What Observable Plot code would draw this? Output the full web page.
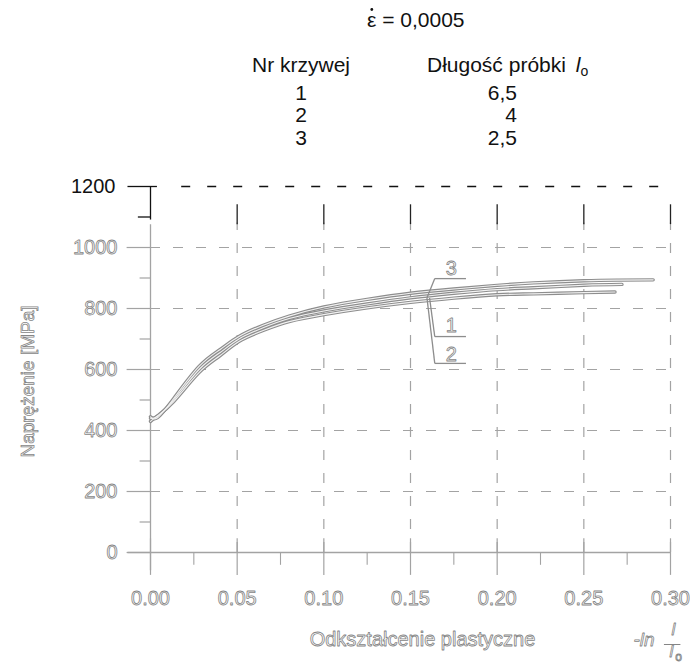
<!DOCTYPE html>
<html><head><meta charset="utf-8">
<script src="https://cdn.jsdelivr.net/npm/d3@7"></script>
<script src="https://cdn.jsdelivr.net/npm/@observablehq/plot@0.6"></script>
<style>
body{margin:0;background:#fff;}
#wrap{width:690px;height:666px;font-family:"Liberation Sans",Arial,sans-serif;}
#hdr svg,#chart svg{display:block;}
</style></head><body>
<div id="wrap"><div id="hdr"></div><div id="chart"></div></div>
<script>
// ---- texts ----
const rateLabel = "ε = 0,0005";
const colHeadCurve = "Nr krzywej";
const colHeadLength = "Długość próbki";
const curveNumbers = ["1", "2", "3"];
const sampleLengths = ["6,5", "4", "2,5"];
const yLabel = "Naprężenie [MPa]";
const xLabel = "Odkształcenie plastyczne";

// ---- ticks ----
const xTickValues = [0, 0.05, 0.10, 0.15, 0.20, 0.25, 0.30];
const xTickLabels = ["0.00", "0.05", "0.10", "0.15", "0.20", "0.25", "0.30"];
const xMinorTicks = [0.025, 0.075, 0.125, 0.175, 0.225, 0.275];
const yTickValues = [0, 200, 400, 600, 800, 1000];
const yTopTick = [1200];
const yMinorTicks = [100, 300, 500, 700, 900];
const yTopMinor = [1100];
const xGrid = [0.05, 0.10, 0.15, 0.20, 0.25, 0.30];
const yGrid = [200, 400, 600, 800, 1000];

// ---- curves (strain, stress MPa) ----
const strain3 = [0, 0.004, 0.0134, 0.028, 0.040, 0.051, 0.065, 0.080, 0.100, 0.125, 0.150, 0.175, 0.200, 0.221, 0.250, 0.270, 0.290];
const stress3 = [445, 442, 505, 610, 665, 708, 745, 775, 805, 830, 850, 864, 876, 884, 891, 893, 894];
const strain1 = [0, 0.004, 0.0134, 0.028, 0.040, 0.051, 0.065, 0.080, 0.100, 0.125, 0.150, 0.175, 0.200, 0.221, 0.250, 0.272];
const stress1 = [440, 446, 500, 600, 655, 700, 737, 767, 792, 815, 835, 850, 862, 868, 876, 879];
const strain2 = [0, 0.004, 0.0134, 0.028, 0.040, 0.051, 0.065, 0.080, 0.100, 0.125, 0.150, 0.175, 0.200, 0.221, 0.250, 0.268];
const stress2 = [430, 448, 495, 590, 645, 692, 728, 757, 780, 802, 820, 834, 845, 848, 852, 854];

// ---- curve labels (annotation anchors, data units) ----
const tagText = ["3", "1", "2"];
const tagX = [0.1735, 0.1735, 0.1735];
const tagY = [931, 744, 648];
const tagLineY = [898, 708, 620];
const tagLeaderX = [0.1595, 0.161, 0.1595];
const tagLeaderY = [835, 835, 835];

// ---------- header ----------
const font = "Liberation Sans, Arial, sans-serif";
const hdr = d3.select("#hdr").append("svg").attr("width", 690).attr("height", 150)
  .style("font-family", font).style("font-size", "21px").attr("fill", "#111");
hdr.append("text").attr("x", 367).attr("y", 27).text(rateLabel);
hdr.append("circle").attr("cx", 371.8).attr("cy", 9.5).attr("r", 1.4).attr("fill", "#111");
hdr.append("text").attr("x", 301).attr("y", 72).attr("text-anchor", "middle").text(colHeadCurve);
const h2 = hdr.append("text").attr("x", 427).attr("y", 72);
h2.append("tspan").text(colHeadLength + "  ");
h2.append("tspan").attr("font-style", "italic").attr("dx", 4).text("l");
h2.append("tspan").attr("font-size", 14).attr("dy", 4).text("o");
const rowY = [100, 122, 145];
curveNumbers.forEach((d, i) => hdr.append("text").attr("x", 301).attr("y", rowY[i]).attr("text-anchor", "middle").text(d));
sampleLengths.forEach((d, i) => hdr.append("text").attr("x", 517).attr("y", rowY[i]).attr("text-anchor", "end").text(d));

// ---------- chart ----------
const curves = [];
[[strain1, stress1, "1"], [strain2, stress2, "2"], [strain3, stress3, "3"]].forEach(([xs, ys, c]) =>
  xs.forEach((x, i) => curves.push({x, y: ys[i], curve: c})));

const grey = "#a3a3a3";
const outline = {fill: "white", stroke: "#858585", strokeWidth: 0.8, paintOrder: "normal", fontFamily: font};
const tags = tagText.map((t, i) => ({t, x: tagX[i], y: tagY[i], ly: tagLineY[i], lx: tagLeaderX[i], lly: tagLeaderY[i]}));

const chart = Plot.plot({
  width: 690, height: 516,
  marginTop: 36, marginBottom: 114, marginLeft: 150, marginRight: 20,
  x: {domain: [0, 0.3], axis: null},
  y: {domain: [0, 1200], axis: null},
  style: {fontFamily: font, background: "white", overflow: "visible"},
  marks: [
    // horizontal dashed grid
    Plot.ruleY(yGrid, {x1: 0, x2: 0.3, stroke: grey, strokeDasharray: "10,13", strokeWidth: 1.2}),
    Plot.ruleY(yTickValues, {x1: -0.0135, x2: 0, stroke: grey, strokeWidth: 1.2}),
    Plot.ruleY(yMinorTicks, {x1: -0.006, x2: 0, stroke: grey, strokeWidth: 1.2}),
    // vertical dashed grid
    Plot.ruleX(xGrid, {y1: 0, y2: 1080, stroke: grey, strokeDasharray: "10,13", strokeWidth: 1.2}),
    Plot.ruleX(xGrid, {y1: 1075, y2: 1140, stroke: "#222", strokeWidth: 1.3}),
    // top black line at 1200
    Plot.ruleY(yTopTick, {x1: -0.013, x2: 0.004, stroke: "#111", strokeWidth: 1.3}),
    Plot.ruleY(yTopTick, {x1: 0.018, x2: 0.3, stroke: "#111", strokeDasharray: "9,17", strokeWidth: 1.3}),
    Plot.ruleX([0], {y1: 1090, y2: 1200, stroke: "#111", strokeWidth: 1.3}),
    Plot.ruleY(yTopMinor, {x1: -0.007, x2: 0, stroke: "#111", strokeWidth: 1.3}),
    // y axis line
    Plot.ruleX([0], {y1: -60, y2: 1075, stroke: grey, strokeWidth: 1.3}),
    // x axis line and ticks
    Plot.ruleY([0], {x1: -0.013, x2: 0.3, stroke: grey, strokeWidth: 1.3}),
    Plot.ruleX(xTickValues, {y1: -75, y2: 45, stroke: grey, strokeWidth: 1.2}),
    Plot.ruleX(xMinorTicks, {y1: -42, y2: 0, stroke: grey, strokeWidth: 1.1}),
    // curves: hollow double stroke
    Plot.line(curves, {x: "x", y: "y", z: "curve", curve: "natural", stroke: "#8d8d8d", strokeWidth: 3.4}),
    Plot.line(curves, {x: "x", y: "y", z: "curve", curve: "natural", stroke: "#f2f2f2", strokeWidth: 1.1}),
    // curve tags
    Plot.link(tags, {x1: d => d.x - 0.0095, x2: d => d.x + 0.0085, y1: "ly", y2: "ly", stroke: "#8d8d8d", strokeWidth: 1.3}),
    Plot.link(tags, {x1: d => d.x - 0.0095, x2: "lx", y1: "ly", y2: "lly", stroke: "#8d8d8d", strokeWidth: 1.3}),
    Plot.text(tags, {x: "x", y: "y", text: "t", fontSize: 20, ...outline}),
    // tick labels
    Plot.text(yTickValues, {x: 0, y: d => d, text: d => String(d), dx: -33, textAnchor: "end", fontSize: 20, ...outline}),
    Plot.text(yTopTick, {x: 0, y: d => d, text: d => String(d), dx: -35, textAnchor: "end", fontSize: 20, fill: "#111", fontFamily: font}),
    Plot.text(xTickValues, {x: d => d, y: 0, text: (d, i) => xTickLabels[i], dy: 46, fontSize: 20, ...outline}),
    // axis titles
    Plot.text([yLabel], {frameAnchor: "left", text: d => d, dx: -123, dy: 12, rotate: -90, textAnchor: "middle", fontSize: 19, ...outline}),
    Plot.text([xLabel], {frameAnchor: "bottom", text: d => d, dx: 12, dy: 93, fontSize: 20, ...outline}),
    Plot.text(["-ln"], {frameAnchor: "bottom-right", textAnchor: "end", text: d => d, dx: -16, dy: 93, fontSize: 19, fontStyle: "italic", ...outline}),
    Plot.text(["l"], {frameAnchor: "bottom-right", textAnchor: "middle", text: d => d, dx: 3, dy: 82, fontSize: 17, fontStyle: "italic", ...outline}),
    Plot.text(["l"], {frameAnchor: "bottom-right", textAnchor: "middle", text: d => d, dx: 1, dy: 104, fontSize: 17, fontStyle: "italic", ...outline}),
    Plot.text(["o"], {frameAnchor: "bottom-right", textAnchor: "middle", text: d => d, dx: 8, dy: 108, fontSize: 12, ...outline}),
    Plot.ruleY([0], {x1: 0.2965, x2: 0.306, dy: 92, stroke: "#858585", strokeWidth: 1})
  ]
});
document.getElementById("chart").appendChild(chart);
</script>
</body></html>
